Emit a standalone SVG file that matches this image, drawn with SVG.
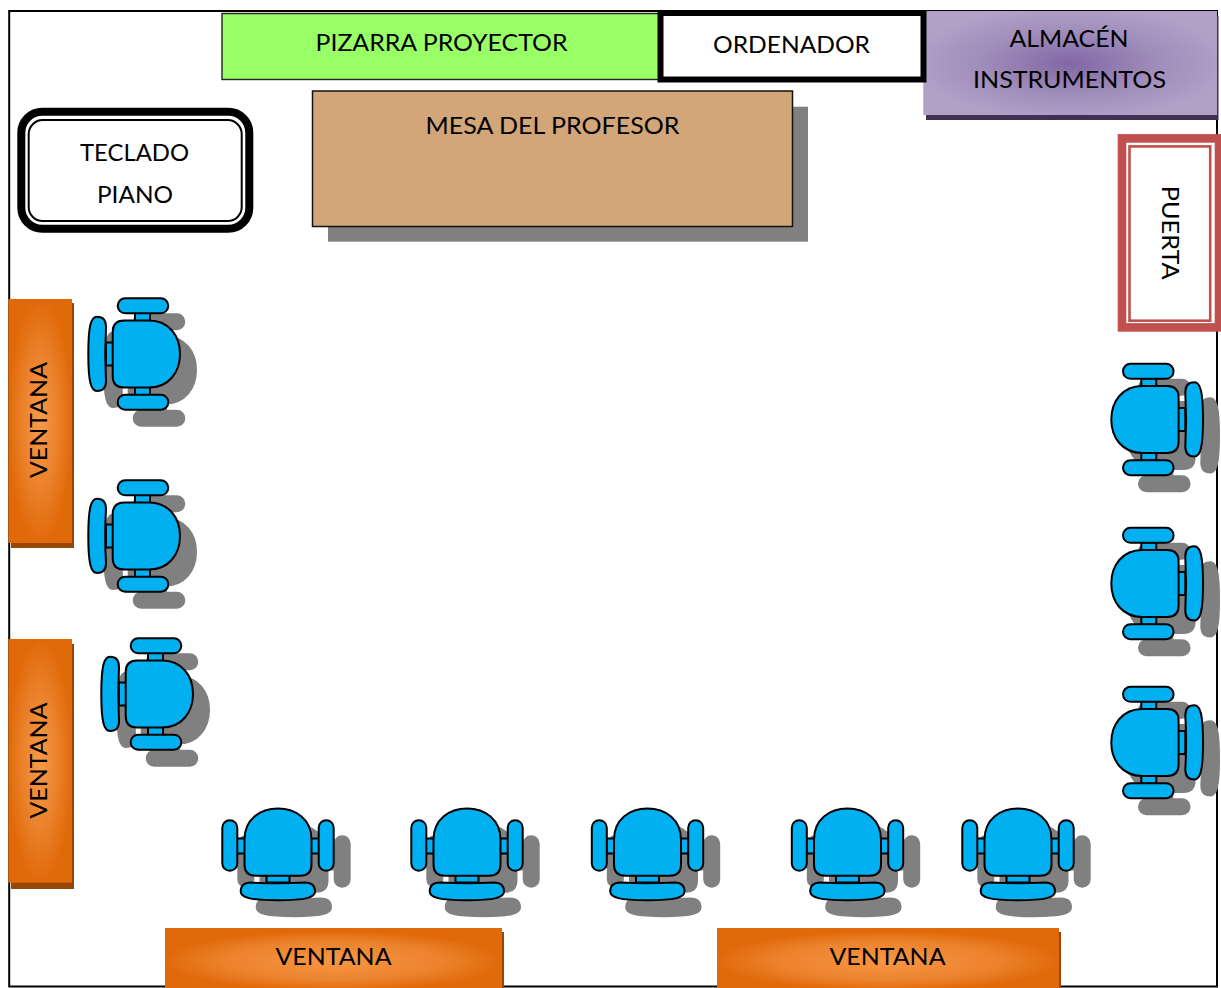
<svg xmlns="http://www.w3.org/2000/svg" width="1221" height="988" viewBox="0 0 1221 988">
<style>
text{font-family:"Lato","Carlito","Liberation Sans",sans-serif;font-size:24px;fill:#000;text-anchor:middle}
.c{fill:#00b0f0;stroke:#000;stroke-width:2;stroke-linejoin:round}
.s{fill:#808080;stroke:#808080;stroke-width:2;stroke-linejoin:round}
.wsh{fill:#984806}
</style>
<defs>
<radialGradient id="gv" cx=".5" cy=".5" r=".5"><stop offset="0" stop-color="#f89a4a"/><stop offset=".6" stop-color="#ea7f28"/><stop offset="1" stop-color="#e06a0a"/></radialGradient>
<radialGradient id="gh" cx=".5" cy=".55" r=".5"><stop offset="0" stop-color="#f79646"/><stop offset=".65" stop-color="#ec822c"/><stop offset="1" stop-color="#e06a0a"/></radialGradient>
<radialGradient id="gp" cx=".5" cy=".5" r=".55"><stop offset="0" stop-color="#8267a5"/><stop offset=".55" stop-color="#a08dba"/><stop offset="1" stop-color="#b2a1c7"/></radialGradient>
<g id="shape">
<rect x="-37" y="-11.500" width="8" height="23"/>
<rect x="-8" y="-41" width="15" height="9"/>
<rect x="-8" y="32" width="15" height="9"/>
<path d="M-46-37.300C-39.500-37.300-37-33-37-27C-38-10-38 10-37 27C-37 33-39.500 37-46 37C-52 37-54.700 28-54.700 0C-54.700-28-52-37.300-46-37.300Z"/>
<rect x="-25.300" y="-55.700" width="50.600" height="15" rx="7.500"/>
<rect x="-25.300" y="40.700" width="50.600" height="15" rx="7.500"/>
<path d="M-19-33.500H6C26-33.500 37-18 37 0C37 18 26 33.500 6 33.500H-19Q-30.300 33.500-30.300 22V-22Q-30.300-33.500-19-33.500Z"/>
</g>
<g id="chair"><use href="#shape" class="s" transform="translate(16 16)"/><use href="#shape" class="c"/></g>
<g id="chairR"><use href="#shape" class="s" transform="translate(16 16) scale(-1 1)"/><use href="#shape" class="c" transform="scale(-1 1)"/></g>
<g id="chairU"><use href="#shape" class="s" transform="translate(16 16) rotate(-90)"/><use href="#shape" class="c" transform="rotate(-90)"/></g>
</defs>
<rect x="0" y="0" width="1221" height="988" fill="#fff"/>
<rect id="sala" x="9.200" y="11" width="1207.800" height="975.500" fill="#fff" stroke="#000" stroke-width="2"/>

<g id="pizarra"><rect x="222" y="13.500" width="438" height="66" fill="#99ff66" stroke="#222" stroke-width="1.400"/>
<text x="441.500" y="51.200" textLength="252" lengthAdjust="spacingAndGlyphs">PIZARRA PROYECTOR</text></g>

<g id="almacen"><rect x="926" y="16" width="292.500" height="104" fill="#3f3151"/><rect x="923.300" y="11" width="293.700" height="104" fill="url(#gp)"/>
<text x="1069" y="47" textLength="119" lengthAdjust="spacingAndGlyphs">ALMACÉN</text>
<text x="1069.500" y="88.200" textLength="193" lengthAdjust="spacingAndGlyphs">INSTRUMENTOS</text></g>

<g id="ordenador"><rect x="660.500" y="13" width="263" height="66.500" fill="#fff" stroke="#000" stroke-width="6"/>
<text x="791.500" y="53" textLength="157" lengthAdjust="spacingAndGlyphs">ORDENADOR</text></g>

<g id="mesa"><rect x="328" y="106.700" width="480" height="135" fill="#808080"/><rect x="312.500" y="91" width="480" height="135.500" fill="#d2a679" stroke="#111" stroke-width="1.500"/>
<text x="552.500" y="134.300" textLength="254" lengthAdjust="spacingAndGlyphs">MESA DEL PROFESOR</text></g>

<g id="teclado"><rect x="21.300" y="111.700" width="228" height="117" rx="21" fill="#fff" stroke="#000" stroke-width="8"/>
<rect x="28.700" y="120.100" width="213" height="101" rx="14" fill="#fff" stroke="#000" stroke-width="2"/>
<text x="134.500" y="161" textLength="109" lengthAdjust="spacingAndGlyphs">TECLADO</text>
<text x="135" y="203" textLength="76" lengthAdjust="spacingAndGlyphs">PIANO</text></g>

<g id="puerta"><rect x="1122" y="138.400" width="97" height="189" fill="#fff" stroke="#c0504d" stroke-width="8.600"/>
<rect x="1129.500" y="146.400" width="80.700" height="174.300" fill="#fff" stroke="#c0504d" stroke-width="2.600"/>
<text transform="translate(1161.500 232.700) rotate(90)" x="0" y="0" textLength="94" lengthAdjust="spacingAndGlyphs">PUERTA</text></g>

<g id="ventana-izq-1"><rect x="11" y="303" width="63" height="245" class="wsh"/><rect x="8.300" y="299" width="63.700" height="244" fill="url(#gv)"/>
<text transform="translate(47 420) rotate(-90)" textLength="116" lengthAdjust="spacingAndGlyphs">VENTANA</text></g>
<g id="ventana-izq-2"><rect x="11" y="644" width="63" height="245" class="wsh"/><rect x="8.300" y="639" width="63.700" height="243.700" fill="url(#gv)"/>
<text transform="translate(47 760.500) rotate(-90)" textLength="116" lengthAdjust="spacingAndGlyphs">VENTANA</text></g>
<g id="ventana-inf-1"><rect x="168" y="932" width="336" height="56" class="wsh"/><rect x="165" y="928" width="337" height="60" fill="url(#gh)"/>
<text x="333.500" y="964.500" textLength="116" lengthAdjust="spacingAndGlyphs">VENTANA</text></g>
<g id="ventana-inf-2"><rect x="720" y="932" width="341" height="56" class="wsh"/><rect x="717" y="928" width="342" height="60" fill="url(#gh)"/>
<text x="887.500" y="964.500" textLength="116" lengthAdjust="spacingAndGlyphs">VENTANA</text></g>

<use id="silla-1" href="#chair" x="143" y="354"/>
<use id="silla-2" href="#chair" x="143" y="536"/>
<use id="silla-3" href="#chair" x="156" y="694"/>
<use id="silla-4" href="#chairR" x="1148.300" y="419.500"/>
<use id="silla-5" href="#chairR" x="1148.300" y="583.500"/>
<use id="silla-6" href="#chairR" x="1148.300" y="742.500"/>
<use id="silla-7" href="#chairU" x="278" y="845.500"/>
<use id="silla-8" href="#chairU" x="467" y="845.500"/>
<use id="silla-9" href="#chairU" x="647.500" y="845.500"/>
<use id="silla-10" href="#chairU" x="847.500" y="845.500"/>
<use id="silla-11" href="#chairU" x="1018" y="845.500"/>
</svg>
